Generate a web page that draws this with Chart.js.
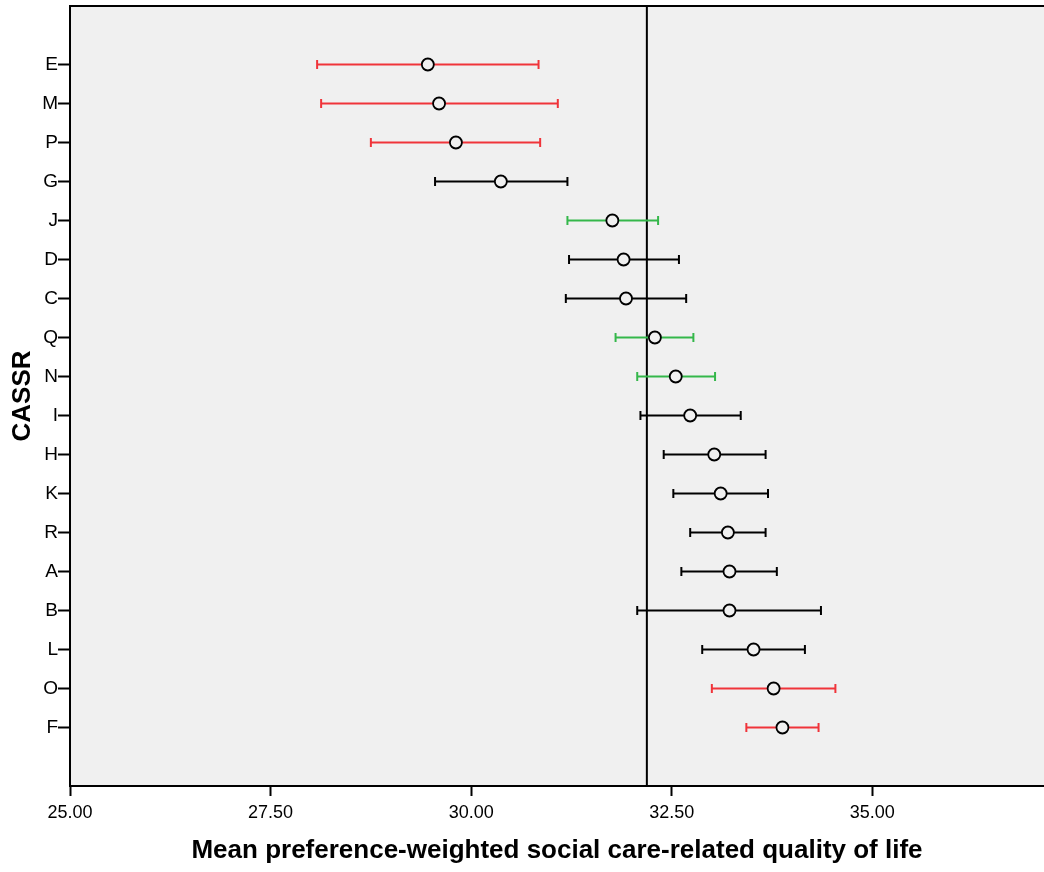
<!DOCTYPE html>
<html>
<head>
<meta charset="utf-8">
<script src="https://cdn.jsdelivr.net/npm/chart.js@4.4.1/dist/chart.umd.min.js"></script>
<style>
html, body { margin: 0; padding: 0; background: #fff; }
</style>
</head>
<body>
<canvas id="myChart" width="1044" height="872"></canvas>
<script>
// CASSR means with confidence limits, top to bottom
var categories = ['E', 'M', 'P', 'G', 'J', 'D', 'C', 'Q', 'N', 'I', 'H', 'K', 'R', 'A', 'B', 'L', 'O', 'F'];
var means = [29.46, 29.60, 29.81, 30.37, 31.76, 31.90, 31.93, 32.29, 32.55, 32.73, 33.03, 33.11, 33.20, 33.22, 33.22, 33.52, 33.77, 33.88];
var lower = [28.08, 28.13, 28.75, 29.55, 31.20, 31.22, 31.18, 31.80, 32.07, 32.11, 32.40, 32.52, 32.73, 32.62, 32.07, 32.88, 33.00, 33.43];
var upper = [30.84, 31.08, 30.86, 31.20, 32.33, 32.59, 32.68, 32.77, 33.04, 33.36, 33.67, 33.70, 33.67, 33.81, 34.36, 34.16, 34.54, 34.33];
var groupKey = ['r', 'r', 'r', 'k', 'g', 'k', 'k', 'g', 'g', 'k', 'k', 'k', 'k', 'k', 'k', 'k', 'r', 'r'];
var refLine = 32.19;
var xTicks = [25, 27.5, 30, 32.5, 35];
var xMin = 25, xMax = 37.14;
var yMin = -1.5, yMax = 18.5;

var colorOf = { r: 'rgb(240,52,58)', g: 'rgb(52,183,74)', k: '#000000' };
var fontFam = '"Liberation Sans", Arial, sans-serif';

var barSets = categories.map(function (c, i) {
	var col = colorOf[groupKey[i]];
	return {
		label: c,
		data: [{ x: lower[i], y: i }, { x: upper[i], y: i }],
		showLine: true,
		borderColor: col,
		borderWidth: 2,
		pointStyle: 'line',
		rotation: 90,
		pointRadius: 4.5,
		pointBorderColor: col,
		pointBorderWidth: 2,
		order: 2
	};
});

var meanSet = {
	label: 'Mean',
	data: means.map(function (m, i) { return { x: m, y: i }; }),
	pointStyle: 'circle',
	pointRadius: 6,
	pointBorderWidth: 1.8,
	pointBorderColor: '#000',
	pointBackgroundColor: '#f0f0f0',
	order: 1
};

var refSet = {
	label: 'ref',
	data: [{ x: refLine, y: yMin }, { x: refLine, y: yMax }],
	showLine: true,
	borderColor: '#000',
	borderWidth: 2,
	pointRadius: 0,
	order: 3
};

var plotBg = {
	id: 'plotBg',
	beforeDraw: function (chart) {
		var a = chart.chartArea, c = chart.ctx;
		c.save();
		c.fillStyle = '#f0f0f0';
		c.fillRect(a.left, a.top, a.right - a.left, a.bottom - a.top);
		c.strokeStyle = '#000';
		c.lineWidth = 2;
		c.beginPath();
		c.moveTo(a.left, a.top);
		c.lineTo(a.right, a.top);
		c.stroke();
		c.restore();
	}
};

var ctx = document.getElementById('myChart');
var myChart = new Chart(ctx, {
	type: 'scatter',
	data: { datasets: [refSet].concat(barSets, [meanSet]) },
	plugins: [plotBg],
	options: {
		responsive: false,
		animation: false,
		layout: { autoPadding: false, padding: { top: 6, right: 0, left: 0, bottom: 0 } },
		plugins: { legend: { display: false }, tooltip: { enabled: false } },
		scales: {
			x: {
				type: 'linear',
				min: xMin,
				max: xMax,
				afterBuildTicks: function (s) { s.ticks = xTicks.map(function (v) { return { value: v }; }); },
				afterFit: function (s) { s.height = 86; s.paddingLeft = 0; s.paddingRight = 0; },
				grid: { drawOnChartArea: false, drawTicks: true, tickLength: 10, tickWidth: 2, tickColor: '#000' },
				border: { display: true, color: '#000', width: 2 },
				ticks: {
					color: '#000',
					padding: 6,
					maxRotation: 0,
					font: { family: fontFam, size: 18 },
					callback: function (v) { return Number(v).toFixed(2); }
				},
				title: {
					display: true,
					text: 'Mean preference-weighted social care-related quality of life',
					color: '#000',
					font: { family: fontFam, size: 26, weight: 'bold' },
					padding: { top: 0, bottom: 6 }
				}
			},
			y: {
				type: 'linear',
				reverse: true,
				min: yMin,
				max: yMax,
				afterBuildTicks: function (s) { s.ticks = categories.map(function (c, i) { return { value: i }; }); },
				afterFit: function (s) { s.width = 70; s.paddingTop = 0; s.paddingBottom = 0; },
				grid: { drawOnChartArea: false, drawTicks: true, tickLength: 12, tickWidth: 2, tickColor: '#000' },
				border: { display: true, color: '#000', width: 2 },
				ticks: {
					color: '#000',
					padding: 0,
					font: { family: fontFam, size: 19 },
					callback: function (v) { return categories[v]; }
				},
				title: {
					display: true,
					text: 'CASSR',
					color: '#000',
					font: { family: fontFam, size: 26, weight: 'bold' },
					padding: { top: 7, bottom: 0 }
				}
			}
		}
	}
});
</script>
</body>
</html>
